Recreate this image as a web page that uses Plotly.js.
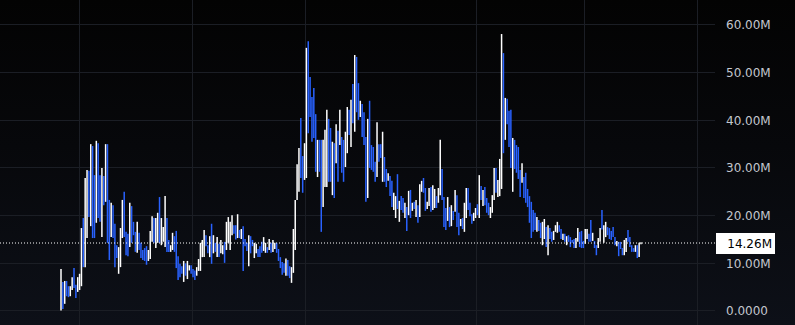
<!DOCTYPE html>
<html>
<head>
<meta charset="utf-8">
<script src="https://cdn.plot.ly/plotly-3.0.1.min.js"></script>
<style>
  html, body { margin: 0; padding: 0; width: 795px; height: 325px; overflow: hidden; }
  body { background: linear-gradient(to bottom, #030303 0%, #07080b 45%, #0d1018 100%); }
  #chart { width: 795px; height: 325px; }
</style>
</head>
<body>
<div id="chart"></div>
<script>
// Values in millions (oldest -> newest)
const openVals = [
2.7,5.0,2.9,5.7,4.7,3.7,5.2,8.2,4.9,4.9,5.4,8.9,17.4,14.8,19.6,27.5,23.0,30.7,25.9,23.7,
32.1,26.5,19.9,27.1,26.5,30.9,20.8,17.7,20.8,16.5,13.3,9.5,11.7,17.7,23.1,15.6,15.3,16.2,20.5,18.1,
15.8,14.2,15.7,13.7,12.4,12.7,12.8,11.2,12.7,16.1,18.5,15.1,16.2,22.0,15.5,15.4,16.6,18.1,14.4,12.8,
13.9,15.0,15.2,10.5,9.3,9.1,7.4,9.5,7.8,8.8,9.2,8.5,8.1,7.9,9.2,10.2,12.4,13.0,15.4,13.5,
12.6,16.6,13.2,13.9,12.6,13.5,12.9,12.5,13.6,14.6,15.9,14.6,17.2,17.6,17.4,16.8,16.7,15.7,15.9,14.8,
14.0,11.4,15.0,14.6,12.1,12.7,12.7,13.1,14.0,13.5,12.8,13.2,13.5,13.9,13.2,13.4,13.9,12.5,10.8,9.8,
9.6,8.5,10.0,8.9,6.9,10.8,16.0,25.5,27.8,38.0,31.0,29.8,36.1,52.7,47.4,43.0,44.7,38.9,30.4,34.6,
32.0,26.0,29.6,30.9,37.7,36.1,27.7,32.9,33.5,35.7,37.0,35.0,34.1,32.4,36.0,41.1,37.4,46.0,42.4,51.0,
46.3,41.7,42.0,40.3,33.8,28.7,41.3,33.8,33.4,30.5,31.6,34.3,34.4,30.3,31.3,29.0,27.8,27.5,26.2,22.3,
20.9,27.2,20.0,23.5,23.1,20.5,20.8,21.6,24.2,21.5,22.6,20.8,21.5,21.8,25.7,27.3,24.8,21.9,23.1,25.0,
22.8,22.8,23.6,23.6,27.8,28.5,22.6,20.7,20.4,21.0,19.1,20.6,22.2,23.0,19.7,18.3,19.0,18.4,21.4,24.9,
22.1,19.9,19.4,20.1,21.9,22.2,25.6,23.0,25.2,23.1,22.2,20.2,21.7,25.3,29.0,25.0,26.4,35.4,49.9,38.5,
43.4,40.5,39.8,28.4,34.7,33.6,33.1,28.5,28.1,27.2,27.7,24.8,23.0,21.4,20.3,19.9,17.5,18.6,17.9,15.3,
16.4,16.8,13.6,16.9,16.2,15.5,17.0,17.1,17.7,16.8,15.3,15.9,14.4,15.6,15.1,14.8,14.7,13.8,15.4,16.0,
16.1,14.4,15.0,15.7,15.9,18.2,15.2,14.4,13.4,13.8,15.4,20.4,15.4,16.5,17.3,17.0,16.4,17.2,15.2,13.9,
13.9,14.2,12.9,12.7,13.3,16.5,15.1,13.5,13.0,12.8,13.3,12.2,14.1
];
const highVals = [
8.8,6.1,6.3,6.3,5.2,5.2,7.1,9.0,5.5,7.1,7.8,17.4,19.5,27.9,29.6,29.4,35.0,34.6,28.5,35.7,
35.2,28.5,30.0,28.3,35.0,35.0,23.3,22.7,22.2,18.3,13.8,13.4,17.4,23.3,25.0,16.6,16.2,22.7,22.0,18.7,
16.6,18.7,16.4,14.3,12.8,13.2,13.6,12.8,16.8,19.9,19.5,19.5,20.6,23.9,19.5,17.6,24.1,19.5,14.9,13.8,
16.4,15.7,16.8,11.5,9.9,9.4,10.5,10.0,10.5,9.6,9.6,8.8,8.5,9.2,10.9,14.3,14.9,17.0,15.9,13.8,
15.7,18.3,15.9,14.3,15.5,14.1,14.9,13.8,14.5,18.7,19.7,18.7,20.1,18.0,18.0,20.3,17.0,17.2,17.8,15.1,
14.3,15.9,15.7,14.9,14.3,14.1,13.0,13.6,14.5,15.5,14.3,13.4,15.1,14.3,14.9,14.3,14.3,13.0,11.3,10.3,
10.0,11.0,10.7,9.4,9.2,17.2,23.3,30.8,34.2,40.5,32.5,35.2,55.2,56.6,49.1,44.9,46.8,41.3,35.9,35.9,
35.9,35.9,38.0,42.2,40.3,38.4,35.5,35.2,39.2,37.8,42.2,36.5,35.9,37.6,42.8,42.2,44.3,47.6,53.7,53.3,
47.8,44.1,43.4,41.7,36.5,40.3,44.1,34.8,34.4,31.3,39.6,35.0,35.0,37.6,32.3,29.8,28.9,28.3,27.3,24.8,
24.1,28.7,23.1,24.1,23.7,22.7,21.8,25.2,25.4,22.7,22.9,23.3,22.2,26.6,27.3,27.9,25.8,22.9,25.8,26.0,
26.4,25.6,24.1,25.8,35.9,29.8,23.9,21.6,23.9,21.8,22.2,21.0,25.4,24.3,20.6,19.3,19.5,22.7,25.8,25.8,
22.7,20.3,20.6,21.6,22.4,28.5,26.2,25.4,26.0,23.7,22.7,21.8,24.3,30.0,30.0,27.5,31.9,58.1,54.1,44.7,
44.5,42.0,42.2,36.3,35.9,34.8,34.4,29.6,31.0,28.1,29.0,25.6,24.1,22.9,21.2,20.6,19.7,19.1,18.5,18.7,
19.3,17.6,18.0,17.4,16.6,16.8,18.0,18.7,18.0,17.2,16.2,16.2,15.7,15.9,15.5,14.9,15.1,15.3,17.4,16.6,
16.8,14.7,17.2,17.2,16.2,19.1,16.4,14.7,13.8,15.3,17.4,21.2,18.0,18.7,17.6,17.4,16.8,17.6,15.5,14.7,
14.5,14.5,13.2,14.9,15.3,17.0,15.5,13.8,13.2,13.8,13.8,14.3,14.4
];
const lowVals = [
0.1,0.4,1.5,3.1,2.9,3.1,4.4,4.8,2.7,4.0,4.4,5.2,9.2,9.2,15.3,19.7,17.8,15.3,15.3,18.5,
19.5,18.7,15.5,22.2,22.9,14.3,10.7,15.5,15.3,9.2,11.1,7.8,9.2,15.3,15.5,11.7,11.5,13.4,14.3,15.9,
12.4,12.2,12.8,11.1,10.7,10.5,9.7,10.5,10.9,14.5,14.3,13.2,14.3,14.3,13.8,14.5,13.4,12.4,12.4,12.4,
12.8,12.4,9.0,6.5,7.1,7.8,6.1,7.4,6.7,8.5,7.8,7.1,6.5,7.4,8.4,8.4,11.3,11.3,13.6,12.1,
11.3,9.9,12.1,12.4,11.3,11.3,12.1,11.9,10.1,12.8,14.3,12.8,15.9,16.2,15.0,15.3,15.3,15.1,8.4,13.6,
12.6,9.4,12.1,13.6,11.1,12.1,11.3,11.3,12.2,12.6,12.2,12.2,12.8,12.2,12.4,13.0,12.2,10.5,9.0,7.6,
8.0,7.4,7.4,6.9,5.9,8.0,12.8,23.3,25.0,27.9,24.8,27.5,27.9,37.3,40.7,35.5,36.3,29.2,28.1,29.2,
16.6,21.8,26.0,26.0,27.1,27.1,24.3,23.7,31.0,27.1,34.8,29.0,27.1,30.2,33.1,36.9,34.4,39.4,37.6,41.7,
40.1,40.7,36.5,34.8,22.9,23.7,30.0,29.6,29.2,27.1,28.1,31.3,32.1,27.1,27.1,26.0,27.3,24.1,21.8,21.2,
19.5,21.4,18.7,21.2,20.6,19.5,16.8,20.1,19.5,21.0,21.4,19.7,18.5,19.7,25.0,24.8,21.0,21.4,22.0,20.8,
21.2,21.6,21.6,22.7,24.3,23.3,17.6,17.0,18.9,17.6,17.8,19.1,20.8,17.6,15.9,17.8,17.2,16.6,19.5,21.2,
19.9,18.3,18.9,19.5,20.1,19.5,23.3,22.0,22.2,20.6,20.1,19.5,20.6,23.3,24.8,23.9,24.1,25.6,33.1,35.9,
39.2,34.4,30.0,25.0,29.8,29.0,27.7,23.9,26.9,23.7,22.7,21.8,18.5,15.3,16.6,17.0,16.6,16.8,15.3,13.8,
15.1,13.4,11.7,15.1,14.5,14.9,16.6,16.4,16.6,15.1,14.9,14.5,13.8,14.5,13.4,14.3,13.2,13.2,14.5,13.4,
13.2,13.2,14.1,15.1,14.5,14.5,14.7,13.2,11.7,13.2,14.5,17.1,14.3,15.5,15.9,15.1,14.9,15.5,13.8,13.6,
11.5,13.0,11.7,11.7,12.4,14.5,13.4,12.4,12.4,12.4,11.1,11.3,14.0
];
const closeVals = [
7.1,2.1,5.3,4.1,3.6,4.8,6.6,6.1,3.5,6.5,7.1,15.0,12.3,24.2,26.7,22.6,31.6,21.1,19.3,32.3,
24.2,21.6,27.1,24.0,32.6,20.5,14.5,21.3,17.4,11.9,11.9,12.3,15.8,21.7,18.3,13.2,12.9,20.8,16.6,16.7,
13.7,17.4,13.9,12.1,11.3,11.3,10.9,12.3,15.6,18.8,15.9,18.2,19.3,17.2,18.4,17.0,22.0,14.5,13.2,13.5,
15.7,13.4,11.3,8.0,7.9,8.3,9.6,8.2,9.7,9.4,8.3,7.6,7.1,8.8,10.4,13.1,14.2,15.9,14.3,12.6,
14.8,12.4,15.1,13.0,14.7,12.1,14.3,13.4,11.4,17.5,18.6,17.5,19.3,16.7,15.9,19.3,15.8,16.8,11.2,14.1,
13.1,14.6,13.2,14.0,13.7,13.7,11.8,12.0,12.9,14.9,13.9,12.6,14.6,12.8,14.4,14.0,12.8,11.3,9.7,8.4,
8.6,10.3,8.4,7.7,8.5,15.4,21.2,29.3,32.4,31.7,27.1,33.7,49.7,43.1,43.2,38.3,39.5,32.8,34.3,31.2,
22.4,33.1,35.6,39.0,31.1,30.5,33.3,27.2,37.6,30.3,40.7,31.3,29.7,36.1,40.9,38.5,42.3,41.9,50.5,45.2,
42.4,43.4,38.6,36.9,27.0,37.0,34.2,31.2,30.8,28.4,37.3,32.4,33.0,35.5,28.7,27.1,28.6,25.4,23.5,24.1,
23.2,23.6,22.2,22.1,21.5,22.1,18.3,24.2,21.3,22.4,21.9,22.6,19.6,25.2,26.8,25.7,22.4,22.6,25.0,22.4,
25.4,24.8,22.4,25.2,33.6,25.3,19.5,18.4,22.9,18.9,21.3,19.7,24.5,19.6,17.3,19.0,17.9,21.5,24.5,22.6,
20.7,18.9,20.3,21.2,20.8,26.7,24.2,24.7,23.3,21.5,20.9,21.3,23.6,28.7,26.4,26.8,30.3,51.6,39.4,42.9,
40.8,36.7,33.7,34.0,31.6,30.7,29.7,25.6,30.2,25.0,24.6,22.9,20.2,17.6,18.0,18.1,19.1,17.5,16.3,17.7,
18.5,14.7,16.7,15.8,15.1,16.4,17.7,18.2,17.0,15.7,15.9,15.0,15.3,14.9,14.0,14.5,13.8,14.9,16.8,14.4,
14.3,13.7,16.6,16.8,15.0,15.9,16.1,13.7,12.3,14.9,16.8,18.3,17.3,18.1,16.4,15.8,15.5,16.1,14.3,14.5,
12.4,13.5,12.2,14.3,14.7,15.3,14.0,12.8,12.6,13.5,11.9,13.7,14.26
];
const lastPrice = 14.26;
const priceTicks = [0, 10, 20, 30, 40, 50, 60];
const priceTickLabels = ['0.0000', '10.00M', '20.00M', '30.00M', '40.00M', '50.00M', '60.00M'];
const lastPriceLabel = '14.26M';

const xIdx = openVals.map((_, i) => i);

// layout geometry (pixels -> axis units)
const plotW = 715;
const step = 580 / (openVals.length - 1);
const x0 = -61 / step;
const x1 = x0 + plotW / step;
const vGridPx = [79, 192, 305, 476, 584, 697];
const vGrid = vGridPx.map(p => x0 + p / step);

const gridColor = '#1b1e25';

const trace = {
  type: 'ohlc',
  x: xIdx,
  open: openVals, high: highVals, low: lowVals, close: closeVals,
  increasing: { line: { color: '#ffffff', width: 1.5 } },
  decreasing: { line: { color: '#2962ff', width: 1.5 } },
  tickwidth: 0,
  hoverinfo: 'skip'
};

const layout = {
  width: 795, height: 325,
  margin: { l: 0, r: 80, t: 0, b: 0, pad: 0 },
  paper_bgcolor: 'rgba(0,0,0,0)',
  plot_bgcolor: 'rgba(0,0,0,0)',
  showlegend: false,
  xaxis: {
    type: 'linear', range: [x0, x1],
    tickvals: vGrid, showticklabels: false, ticks: '',
    showgrid: true, gridcolor: gridColor, gridwidth: 1,
    zeroline: false, showline: false,
    rangeslider: { visible: false }, fixedrange: true
  },
  yaxis: {
    side: 'right', range: [-2.94, 65.24],
    tickvals: priceTicks, ticktext: priceTickLabels,
    tickfont: { family: 'DejaVu Sans', size: 12, color: '#c3c6ce' },
    ticks: '', ticklabelstandoff: 10,
    showgrid: true, gridcolor: gridColor, gridwidth: 1,
    zeroline: false, showline: false, fixedrange: true
  },
  shapes: [{
    type: 'line', xref: 'paper', x0: 0, x1: 1, yref: 'y', y0: lastPrice, y1: lastPrice,
    line: { color: '#ffffff', width: 1, dash: '1px,2px' }, layer: 'above'
  }],
  annotations: [{
    xref: 'paper', x: 1, xanchor: 'left', yref: 'y', y: lastPrice, yanchor: 'middle',
    text: lastPriceLabel, showarrow: false,
    font: { family: 'DejaVu Sans', size: 12, color: '#000000' },
    bgcolor: '#ffffff', borderpad: 3, borderwidth: 0,
    width: 53, height: 15, align: 'right', xshift: 1
  }]
};

Plotly.newPlot('chart', [trace], layout, { displayModeBar: false, staticPlot: true });
</script>
</body>
</html>
